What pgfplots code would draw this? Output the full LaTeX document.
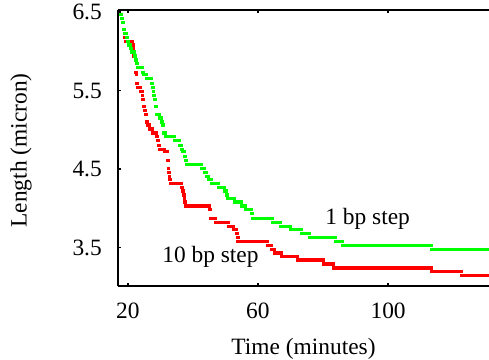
\documentclass[border=0pt]{standalone}
\usepackage{pgfplots}
\pgfplotsset{compat=1.18}
\usepackage{fontspec}
\setmainfont{Liberation Serif}
\definecolor{lgreen}{RGB}{0,255,0}
\definecolor{lred}{RGB}{255,0,0}
\begin{document}
\fontsize{11.7}{14}\selectfont
\begin{tikzpicture}
\begin{axis}[
  scale only axis, width=185.5pt, height=137.75pt,
  xmin=17, xmax=131, ymin=3.01, ymax=6.52,
  axis y line*=left,
  xtick={20,60,100}, ytick={3.5,4.5,5.5,6.5},
  tick align=inside, major tick length=1.5pt,
  tick style={black, line width=0.8pt},
  axis line style={line width=1pt},
  /pgf/number format/assume math mode=true,
  tick label style={font=\fontsize{11.7}{14}\selectfont},
  yticklabel style={xshift=-4pt},
  xticklabel style={yshift=-4.5pt},
  xlabel={Time (minutes)},
  ylabel={Length (micron)},
  every axis x label/.style={at={(axis description cs:0.5,0)}, yshift=-31.5pt, anchor=center, font=\fontsize{11.7}{14}\selectfont},
  every axis y label/.style={at={(axis description cs:0,0.492)}, xshift=-48.5pt, rotate=90, anchor=center, font=\fontsize{11.7}{14}\selectfont},
]
\addplot[lred, line width=1.6pt, line cap=rect, jump mark left] coordinates {
(17.69,6.47)(18.00,6.42)(18.31,6.37)(18.62,6.28)(18.92,6.23)(19.08,6.18)(19.23,6.13)(21.38,6.08)(21.69,6.04)(21.85,5.94)(22.31,5.73)(22.62,5.70)(22.77,5.59)(22.92,5.54)(23.85,5.49)(24.46,5.44)(24.62,5.39)(24.77,5.30)(25.08,5.25)(25.38,5.20)(25.69,5.10)(26.00,5.06)(26.62,5.01)(27.54,4.96)(28.77,4.91)(29.08,4.86)(29.38,4.80)(29.69,4.75)(31.23,4.72)(32.15,4.61)(32.46,4.51)(32.62,4.46)(32.77,4.41)(32.92,4.37)(33.08,4.32)(36.46,4.27)(36.77,4.22)(37.08,4.17)(37.38,4.12)(37.54,4.08)(37.69,4.03)(45.08,3.98)(45.38,3.87)(46.92,3.82)(50.92,3.77)(52.46,3.73)(53.38,3.68)(53.69,3.63)(53.85,3.58)(62.92,3.53)(64.15,3.48)(65.08,3.43)(67.23,3.39)(72.15,3.34)(80.15,3.29)(83.23,3.24)(113.38,3.19)(122.62,3.14)(131,3.14)
};
\addplot[lgreen, line width=1.6pt, line cap=rect, jump mark left] coordinates {
(17.69,6.47)(18.00,6.42)(18.31,6.37)(18.62,6.28)(18.92,6.23)(19.54,6.18)(19.85,6.13)(20.15,6.08)(20.77,6.04)(21.08,5.99)(22.00,5.94)(22.31,5.89)(22.62,5.84)(22.92,5.79)(24.46,5.73)(24.77,5.70)(25.69,5.65)(27.23,5.59)(27.54,5.54)(27.85,5.49)(28.00,5.44)(28.15,5.39)(28.46,5.30)(28.77,5.20)(29.69,5.15)(30.31,5.10)(30.62,5.06)(31.08,4.96)(31.54,4.91)(34.31,4.86)(35.85,4.80)(36.46,4.75)(36.77,4.72)(37.38,4.66)(37.69,4.61)(38.00,4.56)(42.62,4.51)(43.54,4.46)(44.15,4.41)(44.77,4.37)(45.69,4.32)(47.85,4.27)(49.69,4.22)(50.31,4.17)(50.62,4.12)(52.77,4.08)(54.92,4.03)(56.15,3.98)(58.00,3.93)(58.31,3.87)(64.46,3.82)(66.92,3.77)(70.00,3.73)(73.38,3.68)(75.85,3.63)(83.85,3.58)(86.00,3.53)(113.38,3.48)(131,3.48)
};
\node[anchor=base west, inner sep=0pt, font=\fontsize{11.7}{14}\selectfont] at (axis cs:80.6,3.79) {1 bp step};
\node[anchor=base west, inner sep=0pt, font=\fontsize{11.7}{14}\selectfont] at (axis cs:30.5,3.305) {10 bp step};
\coordinate (bl) at (rel axis cs:0,0);
\coordinate (tr) at (rel axis cs:1,1);
\end{axis}
\pgfresetboundingbox
\path ([xshift=-59pt,yshift=-37pt]bl) rectangle ([yshift=5.25pt]tr);
\end{tikzpicture}
\end{document}
